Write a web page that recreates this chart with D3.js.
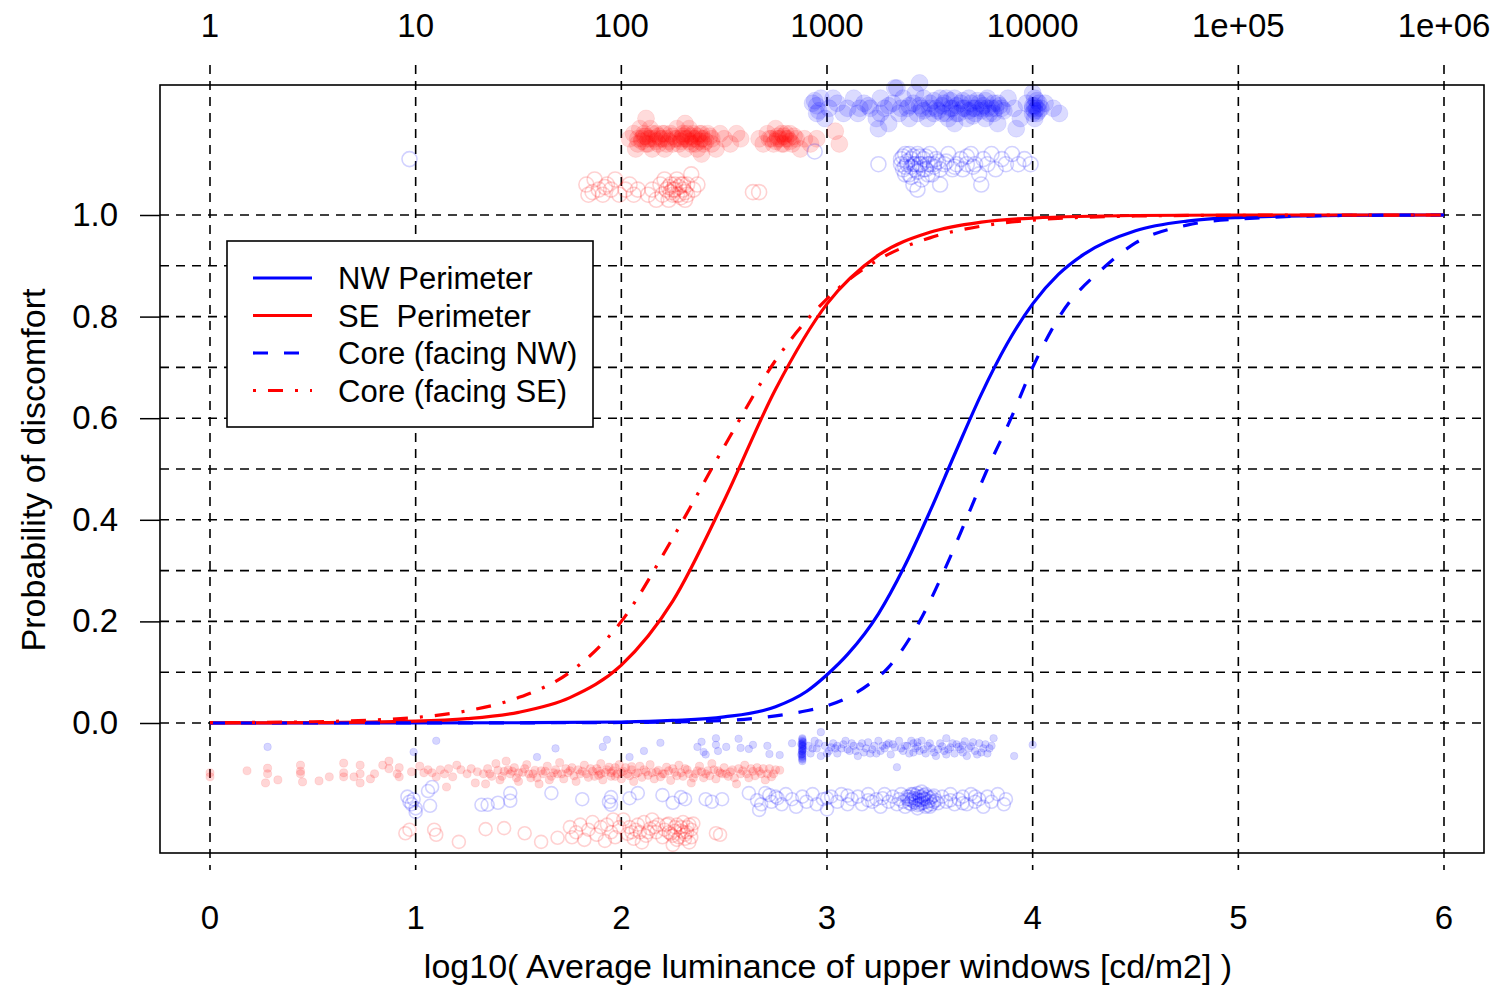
<!DOCTYPE html>
<html>
<head>
<meta charset="utf-8">
<script src="https://cdnjs.cloudflare.com/ajax/libs/d3/7.8.5/d3.min.js"></script>
<style>
  body { margin: 0; background: #fff; }
  svg text { font-family: "Liberation Sans", Arial, Helvetica, sans-serif; fill: #000; }
</style>
</head>
<body>
<div id="chart"></div>
<script>
// tick labels
let bottomTicks = [0, 1, 2, 3, 4, 5, 6];
let topTickLabels = ["1", "10", "100", "1000", "10000", "1e+05", "1e+06"];
let yTicks = [0, 0.2, 0.4, 0.6, 0.8, 1.0];
let yGrid = [0, 0.1, 0.2, 0.3, 0.4, 0.5, 0.6, 0.7, 0.8, 0.9, 1.0];

// fitted curves [log10 luminance, probability]
let nwPerimeter = [[0, 0], [1, 0.0001], [1.5, 0.0005], [2, 0.002], [2.25, 0.005], [2.5, 0.012], [2.75, 0.032],
    [2.9, 0.062], [3, 0.095], [3.1, 0.135], [3.25, 0.215], [3.375, 0.307], [3.5, 0.416], [3.625, 0.533],
    [3.75, 0.647], [3.875, 0.746], [4, 0.825], [4.125, 0.883], [4.25, 0.923], [4.5, 0.969], [4.75, 0.988],
    [5, 0.995], [5.5, 0.9993], [6, 1]];
let sePerimeter = [[0, 0.0001], [0.5, 0.0006], [1, 0.0035], [1.25, 0.0086], [1.5, 0.021], [1.75, 0.05],
    [2, 0.114], [2.25, 0.24], [2.5, 0.438], [2.75, 0.657], [3, 0.825], [3.25, 0.921], [3.5, 0.966],
    [3.75, 0.986], [4, 0.994], [4.5, 0.999], [5, 1], [6, 1]];
let coreNW = [[0, 0], [1, 0.0001], [2, 0.001], [2.5, 0.005], [2.75, 0.014], [2.9, 0.024], [3, 0.034],
    [3.1, 0.05], [3.2, 0.075], [3.3, 0.11], [3.45, 0.2], [3.57, 0.3], [3.676, 0.4], [3.78, 0.5],
    [3.895, 0.6], [4, 0.7], [4.13, 0.8], [4.356, 0.9], [4.5, 0.945], [4.75, 0.98], [5, 0.992],
    [5.5, 0.999], [6, 1]];
let coreSE = [[0, 0.0007], [0.5, 0.0025], [1, 0.011], [1.25, 0.024], [1.5, 0.05], [1.75, 0.1], [2, 0.2],
    [2.25, 0.364], [2.5, 0.544], [2.75, 0.714], [3, 0.835], [3.25, 0.912], [3.5, 0.955], [3.75, 0.978],
    [4, 0.99], [4.5, 0.998], [5, 0.9995], [6, 1]];

// observations (jittered above 1 and below 0 as in the picture) [x, y]
let nwPerimYes = [[2.93,1.22],[2.95,1.20],[2.97,1.23],[2.99,1.19],[3.01,1.21],[3.03,1.23],[3.05,1.22],[3.08,1.20],[3.10,1.21],[3.13,1.23],[3.15,1.20],[3.18,1.22],[3.21,1.21],[3.24,1.19],[3.26,1.23],[3.28,1.21],[3.30,1.18],[3.32,1.22],[3.33,1.25],[3.35,1.20],[3.37,1.23],[3.39,1.21],[3.40,1.19],[3.42,1.22],[3.43,1.24],[3.44,1.20],[3.46,1.21],[3.47,1.23],[3.49,1.19],[3.50,1.22],[3.52,1.20],[3.53,1.21],[3.55,1.23],[3.56,1.20],[3.57,1.22],[3.59,1.19],[3.60,1.21],[3.62,1.23],[3.63,1.20],[3.65,1.22],[3.66,1.21],[3.68,1.19],[3.69,1.23],[3.71,1.21],[3.72,1.20],[3.74,1.22],[3.75,1.21],[3.77,1.19],[3.78,1.23],[3.80,1.21],[3.81,1.20],[3.83,1.22],[3.85,1.21],[3.88,1.23],[3.91,1.21],[3.94,1.19],[3.97,1.22],[4.00,1.21],[4.01,1.23],[4.02,1.20],[4.03,1.22],[4.01,1.19],[4.00,1.24],[4.04,1.21],[4.06,1.22],[4.10,1.21],[4.13,1.20],[3.25,1.17],[3.45,1.26],[3.34,1.25],[3.62,1.18],[3.83,1.18],[3.92,1.17],
    [3.45,1.215],[3.47,1.205],[3.50,1.21],[3.52,1.225],[3.54,1.205],[3.56,1.215],[3.58,1.20],[3.60,1.225],[3.61,1.21],[3.63,1.215],[3.64,1.20],[3.66,1.225],[3.67,1.21],[3.69,1.205],[3.70,1.22],[3.72,1.21],[3.73,1.225],[3.75,1.205],[3.76,1.215],[3.78,1.21],[3.79,1.20],[3.81,1.22],[3.82,1.21],[3.84,1.215],[3.86,1.205],[3.58,1.23],[3.71,1.195],[3.77,1.225],[3.40,1.215],[3.36,1.21],[4.00,1.215],[4.01,1.205],[4.02,1.225],[4.00,1.20],[4.02,1.21],[4.01,1.215],[4.03,1.205],[2.95,1.215],[2.96,1.205],[2.94,1.225],[3.16,1.21],[3.20,1.215],[3.30,1.215],[3.26,1.20]];
let sePerimYes = [[2.04,1.15],[2.06,1.16],[2.07,1.13],[2.08,1.14],[2.09,1.17],[2.10,1.15],[2.11,1.16],[2.12,1.14],[2.13,1.15],[2.14,1.17],[2.15,1.13],[2.16,1.15],[2.17,1.16],[2.18,1.14],[2.19,1.15],[2.20,1.16],[2.21,1.13],[2.22,1.15],[2.24,1.16],[2.25,1.14],[2.26,1.15],[2.27,1.17],[2.28,1.14],[2.29,1.15],[2.30,1.16],[2.31,1.13],[2.32,1.15],[2.33,1.17],[2.34,1.14],[2.35,1.16],[2.36,1.15],[2.37,1.13],[2.38,1.16],[2.39,1.15],[2.40,1.14],[2.42,1.16],[2.44,1.15],[2.46,1.13],[2.48,1.16],[2.50,1.15],[2.53,1.14],[2.56,1.16],[2.58,1.15],[2.12,1.19],[2.31,1.18],[2.39,1.12],[2.67,1.15],[2.69,1.14],[2.71,1.16],[2.72,1.15],[2.74,1.14],[2.75,1.17],[2.76,1.15],[2.78,1.16],[2.79,1.14],[2.80,1.15],[2.82,1.16],[2.83,1.14],[2.85,1.15],[2.87,1.13],[2.89,1.15],[2.92,1.14],[2.95,1.15],[3.04,1.165],[3.06,1.14],
    [2.08,1.15],[2.10,1.145],[2.11,1.155],[2.13,1.14],[2.14,1.15],[2.15,1.16],[2.17,1.145],[2.18,1.155],[2.20,1.15],[2.21,1.16],[2.23,1.145],[2.25,1.155],[2.27,1.15],[2.29,1.145],[2.30,1.155],[2.32,1.16],[2.33,1.145],[2.34,1.155],[2.35,1.15],[2.36,1.14],[2.37,1.155],[2.38,1.145],[2.39,1.16],[2.40,1.15],[2.41,1.145],[2.43,1.155],[2.44,1.14],[2.12,1.155],[2.22,1.14],[2.31,1.15],[2.73,1.15],[2.75,1.145],[2.76,1.155],[2.77,1.15],[2.78,1.14],[2.79,1.155],[2.81,1.15],[2.82,1.145],[2.84,1.155],[2.80,1.16]];
let coreNWYes = [[0.97,1.11],[2.94,1.125],[3.25,1.10],[3.36,1.11],[3.37,1.09],[3.38,1.12],[3.39,1.10],[3.40,1.08],[3.41,1.11],[3.42,1.10],[3.43,1.09],[3.44,1.12],[3.45,1.10],[3.46,1.07],[3.47,1.11],[3.48,1.09],[3.49,1.10],[3.50,1.12],[3.51,1.08],[3.52,1.10],[3.53,1.11],[3.55,1.09],[3.57,1.10],[3.59,1.12],[3.61,1.09],[3.63,1.10],[3.65,1.11],[3.66,1.09],[3.68,1.10],[3.70,1.12],[3.72,1.10],[3.74,1.08],[3.76,1.11],[3.78,1.10],[3.80,1.12],[3.82,1.09],[3.85,1.11],[3.87,1.10],[3.90,1.12],[3.93,1.10],[3.96,1.11],[3.99,1.10],[3.42,1.06],[3.55,1.06],[3.75,1.06],[3.44,1.05],
    [3.36,1.10],[3.37,1.115],[3.38,1.095],[3.39,1.105],[3.40,1.12],[3.41,1.095],[3.42,1.115],[3.43,1.10],[3.44,1.085],[3.45,1.115],[3.46,1.10],[3.47,1.09],[3.48,1.115],[3.50,1.10],[3.52,1.095],[3.54,1.105],[3.38,1.08],[3.41,1.075],[3.49,1.08],[3.58,1.105],[3.62,1.095],[3.68,1.115],[3.71,1.095]];
let coreSEYes = [[1.83,1.06],[1.84,1.04],[1.87,1.07],[1.89,1.05],[1.91,1.04],[1.93,1.06],[1.95,1.05],[1.97,1.07],[1.99,1.04],[2.02,1.05],[2.04,1.06],[2.06,1.04],[2.08,1.05],[2.13,1.04],[2.15,1.05],[2.17,1.03],[2.19,1.06],[2.20,1.04],[2.21,1.07],[2.22,1.05],[2.23,1.03],[2.24,1.06],[2.25,1.04],[2.26,1.05],[2.27,1.07],[2.28,1.04],[2.29,1.06],[2.30,1.05],[2.31,1.03],[2.32,1.06],[2.34,1.08],[2.35,1.05],[2.37,1.06],[2.64,1.045],[2.67,1.045],
    [2.24,1.045],[2.26,1.06],[2.27,1.04],[2.28,1.055],[2.29,1.035],[2.30,1.06],[2.25,1.05],[2.23,1.055],[2.31,1.045],[2.32,1.04],[1.86,1.045],[1.92,1.055]];
let nwPerimNo = [[0.28,-0.047],[0.99,-0.057],[1.10,-0.035],[1.59,-0.067],[1.68,-0.05],[1.91,-0.047],[1.93,-0.033],[2.04,-0.067],[2.11,-0.055],[2.19,-0.039],[2.37,-0.047],[2.39,-0.037],[2.40,-0.057],[2.41,-0.062],[2.46,-0.03],[2.46,-0.043],[2.47,-0.055],[2.51,-0.047],[2.57,-0.031],[2.58,-0.049],[2.62,-0.051],[2.64,-0.043],[2.71,-0.045],[2.72,-0.061],[2.77,-0.063],[2.83,-0.04],[2.88,-0.03],[2.88,-0.035],[2.88,-0.04],[2.88,-0.045],[2.88,-0.05],[2.88,-0.055],[2.88,-0.06],[2.88,-0.065],[2.88,-0.07],[2.88,-0.075],[2.875,-0.042],[2.885,-0.052],[2.875,-0.062],[2.885,-0.038],[2.91,-0.045],[2.92,-0.06],[2.94,-0.035],[2.95,-0.05],[2.97,-0.018],[2.97,-0.065],[2.99,-0.045],[3.01,-0.055],[3.03,-0.04],[3.05,-0.06],[3.07,-0.05],[3.09,-0.035],[3.11,-0.055],[3.13,-0.045],[3.15,-0.065],[3.17,-0.04],[3.19,-0.05],[3.21,-0.06],[3.23,-0.045],[3.25,-0.035],[3.26,-0.055],[3.28,-0.05],[3.30,-0.04],[3.31,-0.062],[3.33,-0.048],[3.34,-0.087],[3.35,-0.035],[3.37,-0.055],[3.39,-0.045],[3.40,-0.06],[3.42,-0.04],[3.43,-0.05],[3.45,-0.055],[3.46,-0.035],[3.48,-0.06],[3.49,-0.045],[3.51,-0.05],[3.53,-0.065],[3.55,-0.04],[3.57,-0.055],[3.58,-0.03],[3.60,-0.048],[3.62,-0.06],[3.63,-0.042],[3.65,-0.052],[3.67,-0.036],[3.68,-0.065],[3.70,-0.046],[3.72,-0.055],[3.74,-0.04],[3.76,-0.05],[3.78,-0.06],[3.80,-0.045],[3.81,-0.03],[3.91,-0.065],[4.0,-0.043],[3.42,-0.058],[3.44,-0.046],[3.47,-0.052],[3.64,-0.047],[3.66,-0.058],[3.02,-0.048],[3.10,-0.052],[3.20,-0.038],[3.32,-0.042],[3.58,-0.062],
    [2.88,-0.032],[2.88,-0.037],[2.88,-0.042],[2.88,-0.047],[2.88,-0.052],[2.88,-0.057],[2.88,-0.062],[2.88,-0.067],[2.88,-0.072],[2.882,-0.045],[2.878,-0.055],[3.05,-0.045],[3.12,-0.04],[3.18,-0.058],[3.27,-0.045],[3.36,-0.05],[3.41,-0.035],[3.50,-0.04],[3.54,-0.052],[3.61,-0.04],[3.69,-0.05],[3.73,-0.062],[3.77,-0.042],
    [2.93,-0.05],[2.96,-0.04],[3.00,-0.06],[3.04,-0.05],[3.08,-0.042],[3.14,-0.055],[3.16,-0.046],[3.22,-0.052],[3.24,-0.06],[3.29,-0.043],[3.38,-0.045],[3.44,-0.038],[3.52,-0.058],[3.56,-0.046],[3.59,-0.052],[3.66,-0.044],[3.71,-0.038],[3.75,-0.058],[3.79,-0.05]];
let sePerimNo = [[0.0,-0.098],[0.0,-0.106],[0.18,-0.094],[0.28,-0.089],[0.28,-0.1],[0.27,-0.118],[0.33,-0.112],[0.44,-0.083],[0.44,-0.095],[0.44,-0.1],[0.45,-0.116],[0.53,-0.114],[0.58,-0.106],[0.65,-0.079],[0.65,-0.098],[0.65,-0.106],[0.70,-0.106],[0.73,-0.118],[0.73,-0.083],[0.73,-0.1],[0.78,-0.11],[0.80,-0.1],[0.84,-0.083],[0.87,-0.075],[0.87,-0.09],[0.92,-0.088],[0.91,-0.1],[0.92,-0.106],[0.98,-0.096],[1.02,-0.085],[1.04,-0.098],[1.06,-0.092],[1.08,-0.098],[1.10,-0.106],[1.12,-0.092],[1.14,-0.1],[1.15,-0.126],[1.16,-0.09],[1.18,-0.106],[1.20,-0.083],[1.22,-0.092],[1.25,-0.1],[1.27,-0.09],[1.29,-0.118],[1.30,-0.096],[1.33,-0.1],[1.34,-0.12],[1.35,-0.09],[1.37,-0.105],[1.39,-0.08],[1.41,-0.112],[1.43,-0.095],[1.44,-0.075],[1.46,-0.1],[1.48,-0.088],[1.50,-0.115],[1.52,-0.097],[1.54,-0.082],[1.56,-0.108],[1.58,-0.093],[1.60,-0.12],[1.62,-0.1],[1.64,-0.085],[1.66,-0.105],[1.68,-0.092],[1.70,-0.078],[1.72,-0.11],[1.74,-0.098],[1.76,-0.088],[1.78,-0.115],[1.80,-0.1],[1.82,-0.083],[1.84,-0.107],[1.86,-0.095],[1.88,-0.09],[1.89,-0.103],[1.90,-0.08],[1.91,-0.112],[1.92,-0.097],[1.94,-0.087],[1.95,-0.105],[1.96,-0.094],[1.98,-0.1],[1.99,-0.082],[2.00,-0.11],[2.01,-0.095],[2.02,-0.088],[2.04,-0.104],[2.05,-0.092],[2.06,-0.115],[2.08,-0.098],[2.09,-0.085],[2.10,-0.107],[2.12,-0.096],[2.14,-0.082],[2.16,-0.11],[2.18,-0.093],[2.20,-0.1],[2.22,-0.087],[2.24,-0.113],[2.26,-0.097],[2.28,-0.083],[2.30,-0.105],[2.32,-0.092],[2.34,-0.118],[2.36,-0.1],[2.38,-0.085],[2.40,-0.108],[2.42,-0.094],[2.44,-0.08],[2.46,-0.11],[2.48,-0.098],[2.50,-0.088],[2.52,-0.105],[2.54,-0.092],[2.56,-0.12],[2.58,-0.1],[2.60,-0.083],[2.62,-0.108],[2.64,-0.095],[2.66,-0.088],[2.68,-0.1],[2.70,-0.112],[2.72,-0.09],[2.74,-0.1],[2.77,-0.093],
    [1.81,-0.095],[1.83,-0.1],[1.85,-0.09],[1.87,-0.105],[1.89,-0.095],[1.90,-0.1],[1.93,-0.092],[1.95,-0.098],[1.97,-0.088],[1.97,-0.105],[2.00,-0.097],[2.03,-0.1],[2.05,-0.086],[2.07,-0.1],[2.11,-0.092],[2.13,-0.103],[2.17,-0.096],[2.21,-0.1],[2.25,-0.09],[2.29,-0.098],[2.33,-0.1],[2.37,-0.094],[2.41,-0.1],[2.45,-0.092],[2.49,-0.1],[2.53,-0.096],[2.57,-0.09],[1.45,-0.092],[1.50,-0.098],[1.55,-0.1],[1.61,-0.094],[1.67,-0.098],[1.71,-0.1],[1.75,-0.094],
    [1.36,-0.1],[1.40,-0.093],[1.42,-0.105],[1.47,-0.095],[1.49,-0.108],[1.53,-0.09],[1.57,-0.1],[1.59,-0.108],[1.63,-0.095],[1.65,-0.112],[1.69,-0.1],[1.73,-0.09],[1.77,-0.104],[1.79,-0.092],[2.15,-0.098],[2.19,-0.106],[2.23,-0.094],[2.27,-0.104],[2.31,-0.09],[2.35,-0.108],[2.39,-0.096],[2.43,-0.104],[2.47,-0.094],[2.51,-0.1],[2.55,-0.108],[2.59,-0.094],[2.61,-0.1],[2.63,-0.09],[2.65,-0.104],[2.67,-0.095],[2.69,-0.09],[2.71,-0.1],[2.73,-0.106],[2.75,-0.092]];
let coreNWNo = [[0.96,-0.145],[0.98,-0.16],[0.99,-0.15],[1.0,-0.168],[0.97,-0.155],[1.0,-0.175],[1.06,-0.134],[1.08,-0.126],[1.07,-0.163],[1.32,-0.161],[1.35,-0.161],[1.40,-0.157],[1.46,-0.138],[1.46,-0.153],[1.66,-0.138],[1.81,-0.15],[1.94,-0.155],[1.95,-0.146],[1.95,-0.161],[2.04,-0.148],[2.08,-0.138],[2.20,-0.142],[2.25,-0.157],[2.29,-0.146],[2.31,-0.15],[2.41,-0.15],[2.44,-0.155],[2.49,-0.15],[2.62,-0.138],[2.66,-0.152],[2.67,-0.171],[2.70,-0.138],[2.72,-0.142],[2.76,-0.148],[2.68,-0.16],[2.73,-0.155],[2.75,-0.145],[2.78,-0.16],[2.80,-0.14],[2.83,-0.15],[2.85,-0.165],[2.88,-0.145],[2.90,-0.155],[2.93,-0.14],[2.95,-0.16],[2.98,-0.15],[3.00,-0.17],[3.02,-0.145],[3.05,-0.155],[3.07,-0.14],[3.10,-0.16],[3.12,-0.15],[3.15,-0.145],[3.17,-0.16],[3.20,-0.14],[3.22,-0.155],[3.24,-0.15],[3.26,-0.165],[3.28,-0.14],[3.30,-0.155],[3.32,-0.145],[3.34,-0.16],[3.35,-0.15],[3.36,-0.14],[3.37,-0.155],[3.38,-0.165],[3.39,-0.145],[3.40,-0.15],[3.41,-0.16],[3.42,-0.14],[3.42,-0.155],[3.43,-0.148],[3.44,-0.162],[3.44,-0.138],[3.45,-0.152],[3.46,-0.145],[3.46,-0.158],[3.47,-0.15],[3.48,-0.165],[3.48,-0.14],[3.49,-0.155],[3.50,-0.148],[3.51,-0.16],[3.52,-0.143],[3.53,-0.152],[3.54,-0.158],[3.56,-0.145],[3.58,-0.155],[3.60,-0.14],[3.62,-0.16],[3.64,-0.15],[3.66,-0.145],[3.68,-0.16],[3.70,-0.14],[3.72,-0.155],[3.74,-0.15],[3.76,-0.165],[3.78,-0.145],[3.80,-0.155],[3.83,-0.14],[3.86,-0.16],[3.87,-0.15],
    [3.39,-0.15],[3.40,-0.145],[3.40,-0.158],[3.41,-0.152],[3.42,-0.148],[3.43,-0.157],[3.43,-0.143],[3.44,-0.15],[3.45,-0.145],[3.45,-0.16],[3.46,-0.152],[3.47,-0.142],[3.47,-0.157],[3.48,-0.15],[3.49,-0.145],[3.49,-0.162],[3.50,-0.153],[3.51,-0.146],[3.52,-0.155],[3.44,-0.168],[3.46,-0.135],[3.41,-0.14],[3.50,-0.165],[3.43,-0.152],[3.47,-0.148],[3.00,-0.148],[3.10,-0.143],[3.20,-0.152],[3.27,-0.148],[3.60,-0.152],[3.66,-0.158],[3.72,-0.145]];
let coreSENo = [[0.95,-0.217],[0.97,-0.21],[1.09,-0.21],[1.10,-0.22],[1.21,-0.234],[1.34,-0.209],[1.43,-0.207],[1.53,-0.217],[1.61,-0.234],[1.69,-0.226],[2.46,-0.217],[2.48,-0.22],[1.75,-0.205],[1.76,-0.225],[1.78,-0.215],[1.80,-0.2],[1.82,-0.23],[1.84,-0.21],[1.86,-0.195],[1.88,-0.22],[1.90,-0.205],[1.92,-0.232],[1.93,-0.2],[1.95,-0.215],[1.97,-0.225],[1.99,-0.205],[2.01,-0.19],[2.03,-0.218],[2.04,-0.205],[2.06,-0.228],[2.08,-0.2],[2.09,-0.215],[2.11,-0.195],[2.12,-0.222],[2.14,-0.208],[2.15,-0.19],[2.17,-0.215],[2.18,-0.2],[2.20,-0.225],[2.21,-0.21],[2.23,-0.198],[2.24,-0.218],[2.26,-0.205],[2.27,-0.23],[2.29,-0.212],[2.30,-0.195],[2.31,-0.22],[2.32,-0.205],[2.33,-0.235],[2.34,-0.21],[2.35,-0.198],[2.25,-0.24],[2.10,-0.235],[1.96,-0.19],
    [2.22,-0.2],[2.23,-0.215],[2.25,-0.222],[2.26,-0.212],[2.27,-0.2],[2.28,-0.225],[2.29,-0.205],[2.30,-0.215],[2.31,-0.228],[2.32,-0.215],[2.33,-0.2],[2.34,-0.225],[2.05,-0.215],[2.07,-0.21],[2.13,-0.215],[2.16,-0.205]];

let legendNames = ["NW Perimeter", "SE  Perimeter", "Core (facing NW)", "Core (facing SE)"];

let width = 1499, height = 986;
let box = {left: 160, right: 1484, top: 85, bottom: 853};
let fontSize = 33;

let x = d3.scaleLinear().domain([0, 6]).range([210, 1444]);
let y = d3.scaleLinear().domain([0, 1]).range([723, 215]);

let svg = d3.select("#chart").append("svg")
    .attr("width", width)
    .attr("height", height);

// vertical grid lines run past the box like long ticks
svg.append("g").selectAll("line")
    .data(bottomTicks)
    .enter().append("line")
    .attr("x1", d => x(d)).attr("x2", d => x(d))
    .attr("y1", 65).attr("y2", 870)
    .attr("stroke", "#000").attr("stroke-width", 1.6)
    .attr("stroke-dasharray", "9,7");

svg.append("g").selectAll("line")
    .data(yGrid)
    .enter().append("line")
    .attr("x1", box.left).attr("x2", box.right)
    .attr("y1", d => y(d)).attr("y2", d => y(d))
    .attr("stroke", "#000").attr("stroke-width", 1.6)
    .attr("stroke-dasharray", "9,7");

// y axis ticks and labels
let yAxis = d3.axisLeft(y).tickValues(yTicks).tickFormat(d3.format(".1f")).tickSize(20).tickPadding(22);
let ya = svg.append("g").attr("transform", "translate(" + box.left + ",0)").call(yAxis);
ya.select(".domain").remove();
ya.selectAll("line").attr("stroke", "#000").attr("stroke-width", 1.5);
ya.selectAll("text").attr("font-size", fontSize).style("font-family", "Liberation Sans, Arial, sans-serif");

// bottom and top labels
svg.append("g").selectAll("text")
    .data(bottomTicks)
    .enter().append("text")
    .attr("x", d => x(d)).attr("y", 929)
    .attr("text-anchor", "middle").attr("font-size", fontSize)
    .text(d => d);

svg.append("g").selectAll("text")
    .data(topTickLabels)
    .enter().append("text")
    .attr("x", (d, i) => x(bottomTicks[i])).attr("y", 37)
    .attr("text-anchor", "middle").attr("font-size", fontSize)
    .text(d => d);

// observations
function drawPoints(data, color, r, filled, alpha) {
    svg.append("g").selectAll("circle")
        .data(data)
        .enter().append("circle")
        .attr("cx", d => x(d[0]))
        .attr("cy", d => y(d[1]))
        .attr("r", r)
        .attr("fill", filled ? color : "none")
        .attr("fill-opacity", alpha)
        .attr("stroke", color)
        .attr("stroke-opacity", filled ? alpha * 0.6 : alpha)
        .attr("stroke-width", filled ? 1 : 1.6);
}
drawPoints(nwPerimYes, "#0000ff", 8.5, true, 0.14);
drawPoints(sePerimYes, "#ff0000", 8.5, true, 0.14);
drawPoints(coreNWYes, "#0000ff", 7.5, false, 0.18);
drawPoints(coreSEYes, "#ff0000", 7.5, false, 0.18);
drawPoints(nwPerimNo, "#0000ff", 3.8, true, 0.16);
drawPoints(sePerimNo, "#ff0000", 4.1, true, 0.16);
drawPoints(coreNWNo, "#0000ff", 6.5, false, 0.18);
drawPoints(coreSENo, "#ff0000", 6.5, false, 0.18);

// fitted curves
let line = d3.line()
    .x(d => x(d[0]))
    .y(d => y(d[1]))
    .curve(d3.curveMonotoneX);

let curves = [
    {data: nwPerimeter, color: "#0000ff", dash: null},
    {data: sePerimeter, color: "#ff0000", dash: null},
    {data: coreNW, color: "#0000ff", dash: "15,16"},
    {data: coreSE, color: "#ff0000", dash: "3,12,15,12"}
];

svg.append("g").selectAll("path")
    .data(curves)
    .enter().append("path")
    .attr("d", d => line(d.data))
    .attr("fill", "none")
    .attr("stroke", d => d.color)
    .attr("stroke-width", 3.2)
    .attr("stroke-dasharray", d => d.dash);

// plot box
svg.append("rect")
    .attr("x", box.left).attr("y", box.top)
    .attr("width", box.right - box.left).attr("height", box.bottom - box.top)
    .attr("fill", "none").attr("stroke", "#000").attr("stroke-width", 1.6);

// legend
let legend = svg.append("g").attr("transform", "translate(227,241)");
legend.append("rect")
    .attr("width", 366).attr("height", 186)
    .attr("fill", "#fff").attr("stroke", "#000").attr("stroke-width", 1.6);

let item = legend.selectAll(".item")
    .data(curves)
    .enter().append("g")
    .attr("transform", (d, i) => "translate(0," + (37 + i * 37.5) + ")");

item.append("line")
    .attr("x1", 26).attr("x2", 85)
    .attr("stroke", d => d.color)
    .attr("stroke-width", 3.2)
    .attr("stroke-dasharray", d => d.dash);

item.append("text")
    .attr("x", 111).attr("y", 11)
    .attr("font-size", 31)
    .style("white-space", "pre")
    .text((d, i) => legendNames[i]);

// axis titles
svg.append("text")
    .attr("x", 828).attr("y", 978)
    .attr("text-anchor", "middle").attr("font-size", 34)
    .text("log10( Average luminance of upper windows [cd/m2] )");

svg.append("text")
    .attr("transform", "translate(45,470) rotate(-90)")
    .attr("text-anchor", "middle").attr("font-size", 34)
    .text("Probability of discomfort");
</script>
</body>
</html>
